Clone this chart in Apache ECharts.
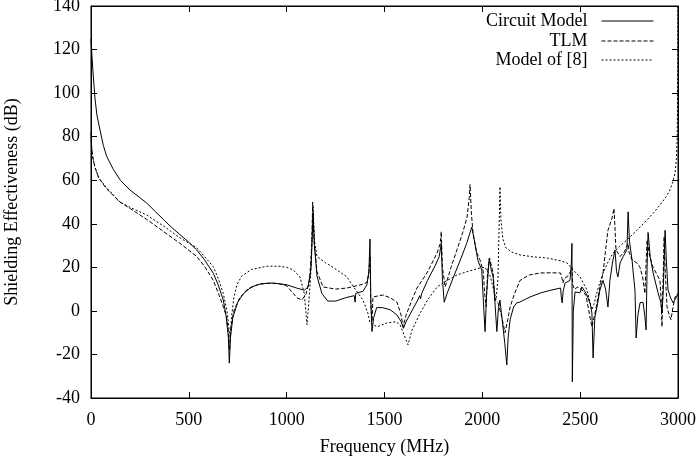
<!DOCTYPE html>
<html>
<head>
<meta charset="utf-8">
<script src="https://cdn.jsdelivr.net/npm/echarts@6/dist/echarts.min.js"></script>
<style>
  html, body { margin: 0; padding: 0; background: #fff; }
  #chart { width: 696px; height: 456px; }
</style>
</head>
<body>
<div id="chart"></div>
<script>
// [frequency MHz, shielding effectiveness dB]
const circuitModel = [
  [0,125],[5,117],[10,110],[20,98],[30,90],[46,83],[63,76],[80,71],[114,65],[150,60],
  [199,55.5],[250,52],[285,49.5],[330,45.5],[370,42],[410,38.5],[455,35],[500,31.5],
  [540,28],[580,23.5],[625,17.3],[650,12],[676,5],[690,-2],[702,-12],[707,-24],[713,-12],
  [725,-3],[750,4],[780,8],[820,11],[870,12.5],[930,12.8],[1000,12],[1050,10.5],[1090,9.5],
  [1110,11],[1125,20],[1135,45],[1142,30],[1155,16],[1180,8],[1210,4.5],[1250,4.5],
  [1300,6],[1345,7],[1350,4],[1353,8],[1390,9],[1410,12],[1420,18],[1426,33],[1430,5],
  [1436,-9.5],[1445,-3],[1460,1.5],[1490,1.5],[1530,0.5],[1565,-2],[1585,-5],[1597,-8],
  [1610,-5],[1640,0],[1670,5],[1680,7],[1684,5.5],[1690,8],[1720,14],[1760,21],[1780,25],
  [1790,31],[1796,15],[1805,4],[1820,8],[1850,15],[1886,23],[1920,31],[1946,38.5],
  [1960,32],[1978,23],[1997,18.8],[2008,0],[2014,-9.5],[2022,8],[2035,24],[2045,19],
  [2055,15.6],[2065,3],[2074,-9.5],[2082,1],[2090,5],[2100,-3],[2115,-15],[2125,-24.8],
  [2132,-12],[2142,-4],[2160,1.8],[2176,3.7],[2190,4],[2244,6.4],[2300,8.3],[2350,9.5],
  [2400,10.5],[2404,6],[2408,3.7],[2413,9],[2423,12.8],[2448,14],[2455,22],[2458,31],
  [2460,-32.6],[2465,0],[2474,8.7],[2499,8.3],[2509,11],[2520,9.5],[2535,7.3],[2552,3],
  [2560,-1],[2566,-21.6],[2575,-3],[2586,1.8],[2601,9.6],[2617,14],[2630,10],[2642,1.8],
  [2652,14],[2665,22],[2678,28],[2686,18],[2693,15.6],[2704,22],[2720,25],[2739,28],
  [2745,45.5],[2752,32],[2765,23.4],[2775,14],[2780,9.6],[2786,-12.4],[2795,-2],
  [2806,3.7],[2821,4],[2830,-2],[2837,-8.7],[2842,20],[2847,36],[2858,25],[2873,17.4],
  [2898,8.3],[2912,4],[2918,-1],[2925,10],[2934,37],[2940,24],[2949,9.6],[2962,6],
  [2975,3.7],[2990,6],[3000,8]
];

const tlm = [
  [0,82],[3,76],[8,71],[20,66],[40,61],[80,56],[148,50],[200,47],[285,42],[370,36.5],
  [455,31],[540,25],[580,20.5],[625,14],[660,6],[693,-2.6],[703,-10],[708,-18],[714,-8],
  [730,0],[760,6],[800,10],[850,12],[900,12.7],[960,12.5],[1000,11.5],[1053,6],[1078,5],
  [1100,8],[1118,15],[1128,30],[1133,50],[1140,32],[1155,18],[1186,11],[1250,10],
  [1308,10.5],[1380,12],[1410,13],[1420,17],[1426,25],[1430,3],[1436,-5],[1441,6.4],
  [1492,7.3],[1530,6],[1564,4],[1585,-2],[1595,-7.3],[1610,-2],[1640,5],[1666,10.5],
  [1717,17.4],[1769,26.6],[1785,31],[1790,36.4],[1796,20],[1810,11],[1840,20],[1870,28],
  [1900,36],[1922,43],[1933,52],[1937,58],[1944,45],[1952,36],[1970,27],[1988,23.4],
  [2005,18],[2012,8],[2019,2],[2027,18],[2037,24.3],[2048,20],[2055,17.4],[2065,5],
  [2080,3.7],[2100,-3],[2116,-10],[2130,-4],[2142,1.8],[2165,8],[2193,14],[2240,16.5],
  [2295,17.4],[2350,17.5],[2400,17.4],[2407,15],[2412,12.8],[2420,15],[2433,15.6],
  [2450,18],[2458,20],[2462,12],[2470,10],[2489,11],[2509,9.6],[2530,7],[2550,-2.8],
  [2560,-7.3],[2576,-1],[2601,11],[2617,17.4],[2630,28],[2642,37],[2663,42.7],[2673,47],
  [2678,38],[2683,28],[2704,25],[2725,27],[2745,31],[2750,27],[2765,23.4],[2790,22],
  [2806,20],[2820,15],[2831,8],[2836,20],[2842,32.6],[2855,25],[2873,20],[2908,14],
  [2914,5],[2918,-7.3],[2924,15],[2929,34],[2935,18],[2944,1.8],[2955,-2],[2964,-4],
  [2975,2],[2985,6.4],[3000,8]
];

const modelOf8 = [
  [0,80],[3,75],[8,71],[20,66],[40,61],[80,56.5],[148,50],[200,47.5],[285,44],[370,39],
  [455,33.5],[540,29],[580,25],[625,20.3],[650,15],[676,8],[695,0],[705,-8],[712,-13],
  [718,-3],[730,6],[746,12],[770,16],[820,19],[900,20.5],[960,20.5],[1000,20],
  [1033,18.8],[1068,15.6],[1090,8],[1104,-6.4],[1110,0],[1122,15],[1130,35],[1135,48],
  [1142,32],[1155,25],[1200,22],[1237,20],[1308,15.6],[1350,10],[1390,5],[1415,-1],
  [1426,-5.5],[1462,-7.3],[1513,-5.5],[1560,-5],[1580,-6.5],[1600,-11],[1620,-15.6],
  [1640,-9],[1682,-1],[1720,5],[1769,11],[1820,14],[1870,16.5],[1922,18],[1988,19.7],
  [2014,20],[2040,16],[2060,9],[2070,5],[2080,15],[2086,40],[2090,57],[2095,42],
  [2105,33],[2120,29],[2150,27],[2193,25.7],[2260,24.8],[2330,24.3],[2400,23],[2433,22],
  [2464,18.8],[2499,15.6],[2535,9.6],[2560,0.5],[2570,3],[2590,10],[2617,17.4],
  [2640,22],[2668,26.6],[2700,29.5],[2739,32.6],[2790,37],[2842,41.8],[2880,45.5],
  [2908,48.7],[2940,52.5],[2959,55.6],[2975,59.5],[2985,63.4],[2992,70],[2996,80],
  [2999,110],[3000,150]
];

const seriesNames = ['Circuit Model', 'TLM', 'Model of [8]'];
const seriesData = [circuitModel, tlm, modelOf8];
const dashes = ['solid', [4, 2], [2, 2]];
const legendTops = [12, 32, 51];

const font = 'Liberation Serif';
let chart = echarts.init(document.getElementById('chart'));

let axisCommon = {
  type: 'value',
  splitLine: { show: false },
  axisLine: { show: true, onZero: false, lineStyle: { color: '#000', width: 1 } },
  axisTick: { show: true, inside: true, length: 6, lineStyle: { color: '#000' } },
  axisLabel: { color: '#000', fontFamily: font, fontSize: 18, formatter: function (v) { return String(v); } }
};

let option = {
  animation: false,
  backgroundColor: '#fff',
  grid: {
    left: 91, right: 18, top: 6, bottom: 58,
    outerBoundsMode: 'none', containLabel: false,
    show: true, borderColor: '#000', borderWidth: 1, backgroundColor: 'transparent'
  },
  legend: seriesNames.map(function (name, i) {
    return {
      data: [name],
      right: 42,
      top: legendTops[i],
      align: 'right',
      padding: 0,
      itemWidth: 52,
      itemHeight: 14,
      itemStyle: { opacity: 0 },
      lineStyle: { width: 1 },
      textStyle: { color: '#000', fontFamily: font, fontSize: 18, padding: [0, 9, 0, 0] }
    };
  }),
  xAxis: [
    Object.assign({}, axisCommon, {
      min: 0, max: 3000, interval: 500,
      name: 'Frequency (MHz)', nameLocation: 'middle', nameGap: 40,
      nameTextStyle: { color: '#000', fontFamily: font, fontSize: 18 },
      axisLabel: Object.assign({}, axisCommon.axisLabel, { margin: 13 })
    }),
    Object.assign({}, axisCommon, {
      position: 'top', min: 0, max: 3000, interval: 500,
      axisLabel: { show: false }
    })
  ],
  yAxis: [
    Object.assign({}, axisCommon, {
      min: -40, max: 140, interval: 20,
      name: 'Shielding Effectiveness (dB)', nameLocation: 'middle', nameGap: 70,
      nameTextStyle: { color: '#000', fontFamily: font, fontSize: 18 },
      axisLabel: Object.assign({}, axisCommon.axisLabel, { margin: 11 })
    }),
    Object.assign({}, axisCommon, {
      position: 'right', min: -40, max: 140, interval: 20,
      axisLabel: { show: false }
    })
  ],
  series: seriesNames.map(function (name, i) {
    return {
      name: name,
      type: 'line',
      data: seriesData[i],
      symbol: 'none',
      clip: true,
      lineStyle: { color: '#000', width: 1, type: dashes[i] },
      itemStyle: { color: '#000' }
    };
  })
};

chart.setOption(option);
</script>
</body>
</html>
